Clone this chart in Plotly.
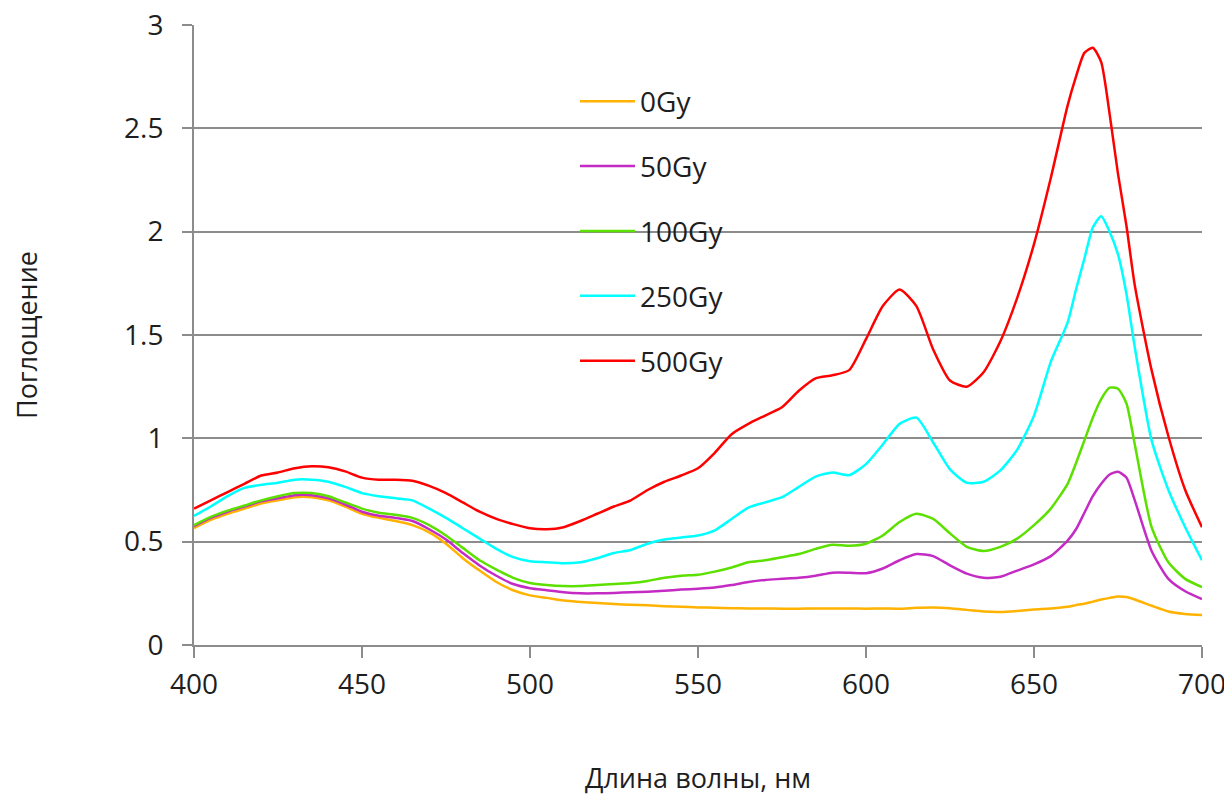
import plotly.graph_objects as go

wavelength = [400, 405, 410, 415, 420, 425, 430, 435, 440, 445, 450, 455, 460, 465, 470, 475,
              480, 485, 490, 495, 500, 505, 510, 515, 520, 525, 530, 535, 540, 545, 550, 555,
              560, 565, 570, 575, 580, 585, 590, 595, 600, 605, 610, 615, 620, 625, 630, 635,
              640, 645, 650, 655, 660, 662.5, 665, 667.5, 670, 672.5, 675, 677.5, 680, 685,
              690, 695, 700]

gy0 = [0.565, 0.605, 0.635, 0.66, 0.685, 0.70, 0.715, 0.715, 0.70, 0.67, 0.635, 0.615, 0.60, 0.58,
       0.545, 0.49, 0.42, 0.36, 0.305, 0.265, 0.24, 0.228, 0.215, 0.208, 0.203, 0.198, 0.195,
       0.192, 0.188, 0.185, 0.182, 0.18, 0.178, 0.177, 0.177, 0.176, 0.176, 0.177, 0.177, 0.177,
       0.176, 0.177, 0.175, 0.18, 0.182, 0.178, 0.17, 0.162, 0.16, 0.165, 0.172, 0.177, 0.185,
       0.193, 0.20, 0.21, 0.22, 0.228, 0.235, 0.232, 0.22, 0.19, 0.162, 0.15, 0.145]

gy50 = [0.575, 0.615, 0.645, 0.67, 0.695, 0.71, 0.725, 0.725, 0.71, 0.68, 0.645, 0.625, 0.615,
        0.60, 0.56, 0.51, 0.445, 0.385, 0.335, 0.295, 0.275, 0.265, 0.255, 0.25, 0.25, 0.252,
        0.255, 0.258, 0.262, 0.268, 0.272, 0.278, 0.29, 0.305, 0.315, 0.32, 0.325, 0.335, 0.35,
        0.35, 0.347, 0.37, 0.41, 0.44, 0.43, 0.385, 0.345, 0.325, 0.33, 0.36, 0.39, 0.43, 0.505,
        0.56, 0.64, 0.72, 0.78, 0.825, 0.838, 0.81, 0.70, 0.455, 0.32, 0.26, 0.222]

gy100 = [0.58, 0.62, 0.65, 0.675, 0.70, 0.72, 0.735, 0.735, 0.72, 0.69, 0.66, 0.64, 0.63, 0.615,
         0.58, 0.53, 0.47, 0.41, 0.365, 0.325, 0.30, 0.29, 0.285, 0.285, 0.29, 0.295, 0.30, 0.31,
         0.325, 0.335, 0.34, 0.355, 0.375, 0.40, 0.41, 0.425, 0.44, 0.465, 0.485, 0.48, 0.49,
         0.53, 0.595, 0.635, 0.61, 0.54, 0.475, 0.455, 0.475, 0.515, 0.58, 0.66, 0.78, 0.88,
         0.99, 1.10, 1.19, 1.245, 1.24, 1.17, 0.97, 0.57, 0.40, 0.32, 0.28]

gy250 = [0.625, 0.67, 0.72, 0.76, 0.775, 0.785, 0.80, 0.80, 0.79, 0.765, 0.735, 0.72, 0.71, 0.70,
         0.66, 0.615, 0.565, 0.515, 0.465, 0.425, 0.405, 0.40, 0.395, 0.40, 0.42, 0.445, 0.46,
         0.49, 0.51, 0.52, 0.53, 0.555, 0.61, 0.665, 0.69, 0.715, 0.765, 0.815, 0.835, 0.822,
         0.875, 0.97, 1.07, 1.10, 0.98, 0.85, 0.785, 0.79, 0.845, 0.945, 1.11, 1.37, 1.56, 1.72,
         1.87, 2.02, 2.075, 2.00, 1.89, 1.70, 1.44, 0.99, 0.75, 0.57, 0.41]

gy500 = [0.66, 0.70, 0.74, 0.78, 0.82, 0.835, 0.855, 0.865, 0.86, 0.84, 0.81, 0.80, 0.80, 0.795,
         0.77, 0.735, 0.69, 0.645, 0.61, 0.585, 0.565, 0.56, 0.57, 0.60, 0.635, 0.67, 0.70, 0.75,
         0.79, 0.82, 0.855, 0.93, 1.02, 1.07, 1.11, 1.15, 1.23, 1.29, 1.305, 1.33, 1.48, 1.64,
         1.72, 1.64, 1.43, 1.28, 1.25, 1.32, 1.47, 1.68, 1.94, 2.26, 2.61, 2.75, 2.865, 2.89,
         2.82, 2.57, 2.28, 2.03, 1.74, 1.33, 1.01, 0.75, 0.57]

series_names = ["0Gy", "50Gy", "100Gy", "250Gy", "500Gy"]
series_values = [gy0, gy50, gy100, gy250, gy500]
series_colors = ["#FFB300", "#C42BC4", "#5CE000", "#00FFFF", "#FF0000"]

font_family = "Open Sans, DejaVu Sans, sans-serif"
text_color = "#1E1E1E"
grid_color = "#8C8C8C"

fig = go.Figure()
for name, vals, col in zip(series_names, series_values, series_colors):
    fig.add_trace(go.Scatter(
        x=wavelength, y=vals, name=name, mode="lines",
        line=dict(color=col, width=2.5, shape="spline", smoothing=0.6),
        legendgroup=name,
    ))

fig.update_layout(
    width=1224, height=788,
    margin=dict(l=186, r=30, t=17, b=151, autoexpand=False),
    paper_bgcolor="white", plot_bgcolor="white",
    font=dict(family=font_family, size=28, color=text_color),
    legend=dict(
        x=0.378, y=0.917, xanchor="left", yanchor="top",
        bgcolor="rgba(0,0,0,0)", font=dict(size=28, color=text_color),
        tracegroupgap=25.5, traceorder="grouped", itemwidth=55,
    ),
    showlegend=True,
)

fig.update_xaxes(
    range=[400, 700], tickvals=[400, 450, 500, 550, 600, 650, 700],
    showgrid=False, zeroline=False,
    showline=True, linecolor=grid_color, linewidth=2,
    ticks="outside", ticklen=11, tickwidth=2, tickcolor=grid_color,
    ticklabelstandoff=2, ticklabeloverflow="allow",
    tickfont=dict(size=28, color=text_color),
    title=dict(text="Длина волны, нм", font=dict(size=27, color=text_color), standoff=85),
    automargin=False,
)
fig.update_yaxes(
    range=[0, 3], tickvals=[0, 0.5, 1, 1.5, 2, 2.5, 3],
    ticktext=["0", "0.5", "1", "1.5", "2", "2.5", "3"],
    showgrid=True, gridcolor=grid_color, gridwidth=2,
    zeroline=False,
    showline=True, linecolor=grid_color, linewidth=2,
    ticks="outside", ticklen=10, tickwidth=2, tickcolor=grid_color,
    ticklabelstandoff=13, ticklabeloverflow="allow",
    tickfont=dict(size=28, color=text_color),
    title=dict(text="Поглощение", font=dict(size=27, color=text_color), standoff=97),
    automargin=False,
)

fig.write_html("out.html")
